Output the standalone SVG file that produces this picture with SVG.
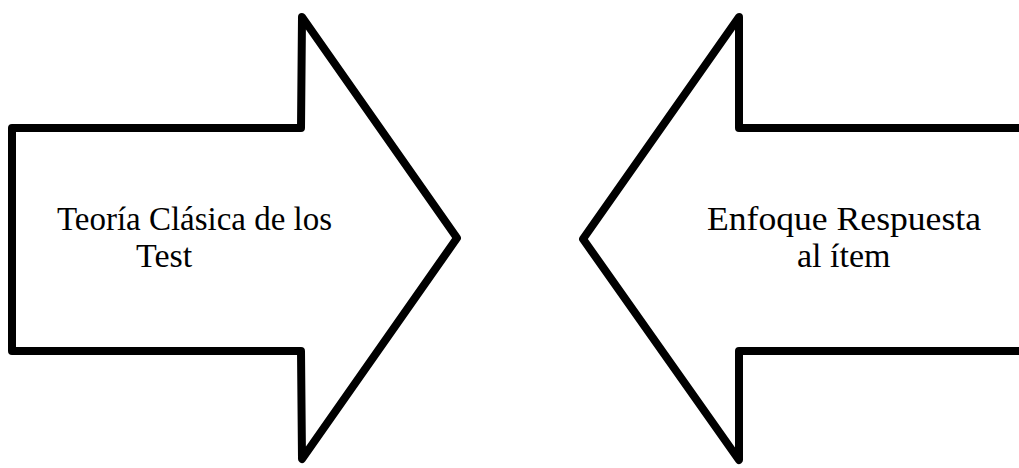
<svg xmlns="http://www.w3.org/2000/svg" width="1019" height="468" viewBox="0 0 1019 468">
<style>
.arrow{fill:#fff;stroke:#000;stroke-width:8;stroke-linejoin:round}
.lbl{font-family:"Liberation Serif","Times New Roman",serif;font-size:34px;fill:#000}
</style>
<rect width="1019" height="468" fill="#fff"/>
<g id="left-arrow">
<polygon class="arrow" points="12,128 301,128 302,17 457,238 302,459 301,351 12,351"/>
<text class="lbl" x="57" y="230" textLength="275" lengthAdjust="spacingAndGlyphs">Teoría Clásica de los</text>
<text class="lbl" x="136" y="267">Test</text>
</g>
<g id="right-arrow">
<polygon class="arrow" points="1030,128 739,128 739,17 583,239 739,460 739,351 1030,351"/>
<text class="lbl" x="707" y="230" textLength="274" lengthAdjust="spacingAndGlyphs">Enfoque Respuesta</text>
<text class="lbl" x="797" y="267">al ítem</text>
</g>
<g id="connectors"></g>
</svg>
